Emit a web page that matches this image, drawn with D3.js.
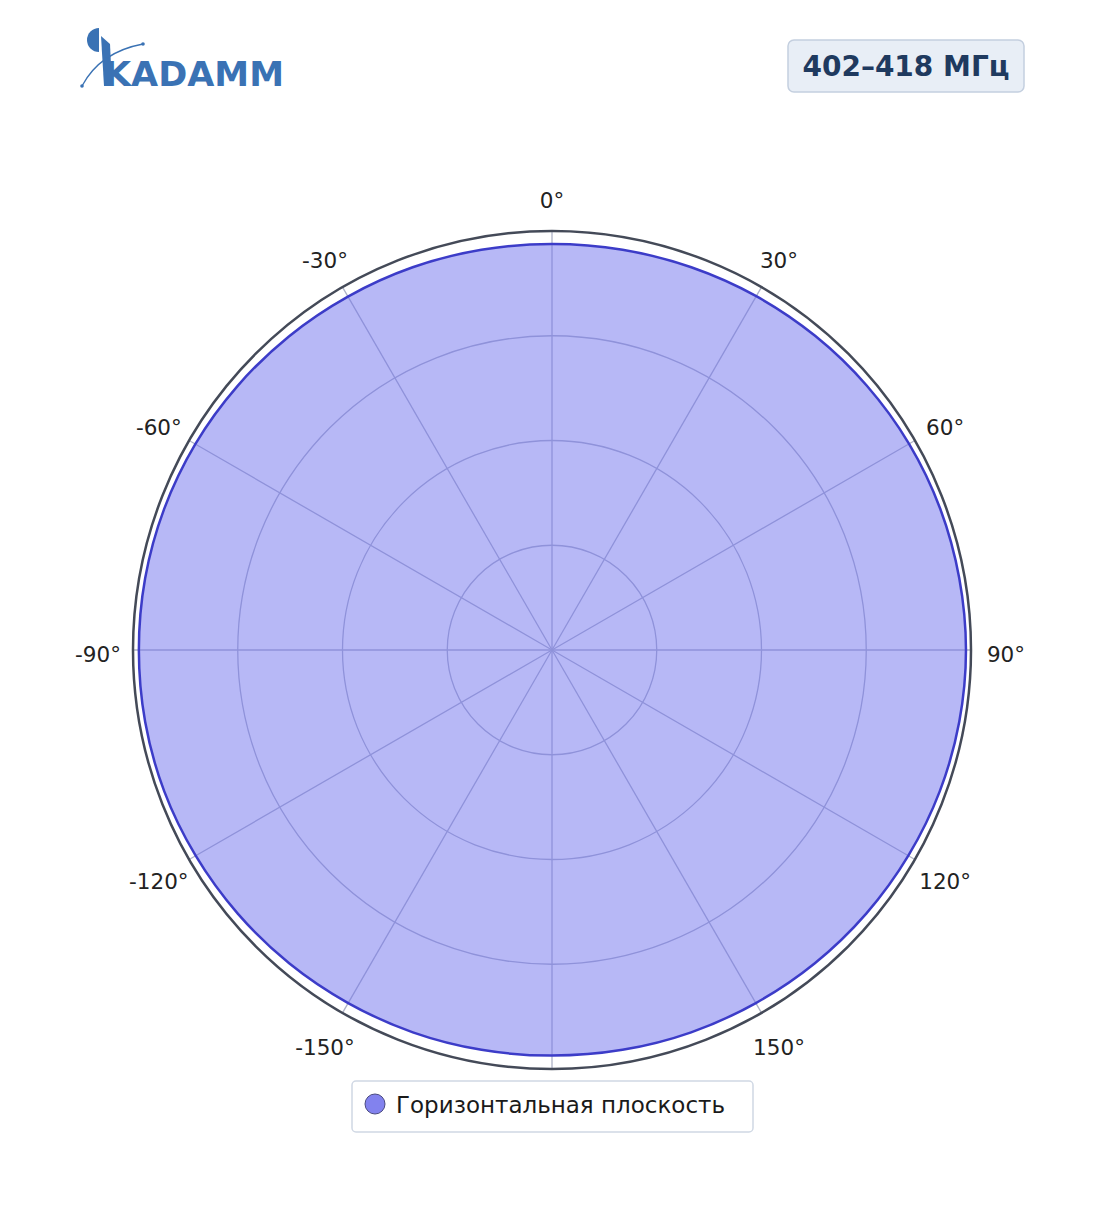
<!DOCTYPE html>
<html><head><meta charset="utf-8">
<script src="https://cdn.jsdelivr.net/npm/d3@7"></script>
<style>body{margin:0;background:#fff;font-family:"DejaVu Sans",sans-serif;}svg{display:block}</style>
</head><body>
<svg id="c" width="1104" height="1211"></svg>
<script>
// ---- data ----
const title = "402–418 МГц";
const seriesName = "Горизонтальная плоскость";
const angles = [0,10,20,30,40,50,60,70,80,90,100,110,120,130,140,150,160,170,180,190,200,210,220,230,240,250,260,270,280,290,300,310,320,330,340,350];
const values = [0.969,0.970,0.972,0.975,0.978,0.981,0.984,0.986,0.987,0.988,0.987,0.985,0.982,0.979,0.976,0.973,0.971,0.969,0.968,0.969,0.971,0.973,0.976,0.979,0.982,0.985,0.986,0.986,0.986,0.985,0.983,0.980,0.977,0.974,0.972,0.970];
const angleTicks = [0,30,60,90,120,150,180,210,240,270,300,330];
const angleTickLabels = ["0°","30°","60°","90°","120°","150°","","-150°","-120°","-90°","-60°","-30°"];
const radialTicks = [0.25,0.5,0.75];

const svg = d3.select("#c");
const cx = 552, cy = 650, R = 419;
const r = d3.scaleLinear().domain([0,1]).range([0,R]);
const a = d3.scaleLinear().domain([0,360]).range([0,2*Math.PI]);
const g = svg.append("g").attr("transform",`translate(${cx},${cy})`);

// grid
const gridCol = "#aeb2c6";
g.selectAll("circle.grid").data(radialTicks).join("circle").attr("class","grid")
  .attr("r",d=>r(d)).attr("fill","none").attr("stroke",gridCol).attr("stroke-width",1.3);
g.selectAll("line.spoke").data(angleTicks).join("line").attr("class","spoke")
  .attr("x1",0).attr("y1",0)
  .attr("x2",d=>R*Math.sin(a(d))).attr("y2",d=>-R*Math.cos(a(d)))
  .attr("stroke",gridCol).attr("stroke-width",1.3);

// data
const pts = angles.map((d,i)=>[a(d), r(values[i])]);
const line = d3.lineRadial().curve(d3.curveCatmullRomClosed.alpha(0.5));
g.append("path").attr("d",line(pts))
  .attr("fill","rgba(112,114,238,0.5)").attr("stroke","#3c3cc8").attr("stroke-width",2.5);

// outer frame
g.append("circle").attr("r",R).attr("fill","none").attr("stroke","#444a58").attr("stroke-width",2.5);

// angular tick labels
g.selectAll("text.at").data(angleTicks).join("text").attr("class","at")
  .attr("x",d=>454*Math.sin(a(d))).attr("y",d=>-454*Math.cos(a(d))+4)
  .attr("text-anchor","middle").attr("dominant-baseline","central")
  .attr("font-size",21.5).attr("fill","#222")
  .text((d,i)=>angleTickLabels[i]);

// title box
const tb = svg.append("g");
tb.append("rect").attr("x",788).attr("y",40).attr("width",236).attr("height",52).attr("rx",6)
  .attr("fill","#e8eef6").attr("stroke","#c4cfdf").attr("stroke-width",1.5);
tb.append("text").attr("x",906).attr("y",66).attr("text-anchor","middle").attr("dominant-baseline","central")
  .attr("font-size",28).attr("font-weight","bold").attr("fill","#1f3a5f").text(title);

// legend
const lg = svg.append("g");
lg.append("rect").attr("x",352).attr("y",1081).attr("width",401).attr("height",51).attr("rx",4)
  .attr("fill","#fff").attr("stroke","#d0d8e4").attr("stroke-width",1.5);
lg.append("circle").attr("cx",375).attr("cy",1104).attr("r",10).attr("fill","#8282ee").attr("stroke","#4a4a80").attr("stroke-width",1);
lg.append("text").attr("x",396).attr("y",1105).attr("dominant-baseline","central")
  .attr("font-size",23).attr("fill","#1a1a1a").text(seriesName);

// logo
const lc = "#3a72b4";
const logo = svg.append("g");
logo.append("path").attr("d","M99,28 A12,12 0 0,0 99,52 Z").attr("fill",lc);
logo.append("path").attr("d","M101,36 L110,44 L112,86 L104,86 Z").attr("fill",lc);
logo.append("text").attr("x",104).attr("y",86).attr("font-size",33).attr("font-weight","bold")
  .attr("fill",lc).attr("textLength",180).attr("lengthAdjust","spacingAndGlyphs")
  .attr("font-family","DejaVu Sans").text("KADAMM");
logo.append("path").attr("d","M82,86 Q100,52 143,44").attr("fill","none").attr("stroke",lc).attr("stroke-width",1.3);
logo.append("circle").attr("cx",82).attr("cy",86).attr("r",1.8).attr("fill",lc);
logo.append("circle").attr("cx",143).attr("cy",44).attr("r",1.8).attr("fill",lc);
</script>
</body></html>
